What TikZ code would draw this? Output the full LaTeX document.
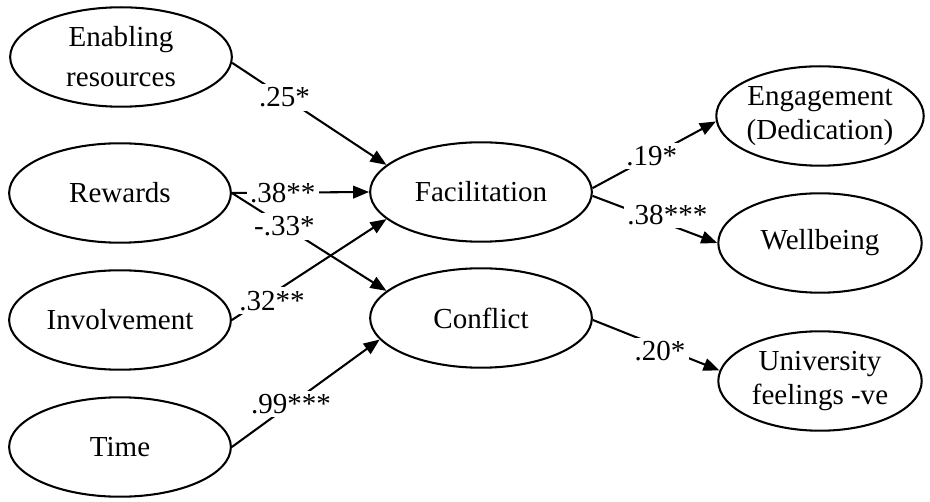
\documentclass[tikz,border=0pt]{standalone}
\usepackage{fontspec}
\setmainfont{Liberation Serif}
\usetikzlibrary{positioning,arrows.meta,shapes.geometric}

\begin{document}
\begin{tikzpicture}[x=0.4375pt,y=-0.4375pt,font=\fontsize{12.7}{15}\selectfont,
  construct/.style={draw,ellipse,line width=0.9pt,inner sep=0pt,
    minimum width=97pt,minimum height=43.5pt,align=center},
  outcome/.style={construct,minimum width=89pt},
  path/.style={line width=0.9pt,-{Triangle[length=7pt,width=5.5pt]}},
  coef/.style={fill=white,inner sep=1.5pt}]
\useasboundingbox (0,0) rectangle (930,502);
% Predictors
\node[construct] (enab) at (121,57) {Enabling\\[2.5pt]resources};
\node[construct] (rew) at (120,193) {Rewards};
\node[construct] (inv) at (120,320) {Involvement};
\node[construct] (time) at (120,447) {Time};
% Mediators
\node[construct] (fac) at (481,192) {Facilitation};
\node[construct] (con) at (481,318) {Conflict};
% Outcomes
\node[outcome] (eng) at (820,116) {Engagement\\(Dedication)};
\node[outcome] (well) at (820,243) {Wellbeing};
\node[outcome] (uni) at (820,381) {University\\feelings -ve};
% Paths to mediators
\draw[path] (enab.-3) -- node[coef,pos=0.34] {.25*} (fac.164);
\draw[path] (rew.east) -- node[coef,pos=0.37] {.38**} (fac.west);
\draw[path] (rew.east) -- node[coef,pos=0.34] {-.33*} (con.164);
\draw[path] (inv.east) -- node[coef,pos=0.26,yshift=-3pt] {.32**} (fac.196);
\draw[path] (time.east) -- node[coef,pos=0.4] {.99***} (con.192);
% Paths to outcomes
\draw[path] (fac.2) -- node[coef,pos=0.48] {.19*} (eng.183);
\draw[path] (fac.-2) -- node[coef,pos=0.6,yshift=4pt] {.38***} (well.west);
\draw[path] (con.-1) -- node[coef,pos=0.53,yshift=-2pt] {.20*} (uni.174);
\end{tikzpicture}
\end{document}
